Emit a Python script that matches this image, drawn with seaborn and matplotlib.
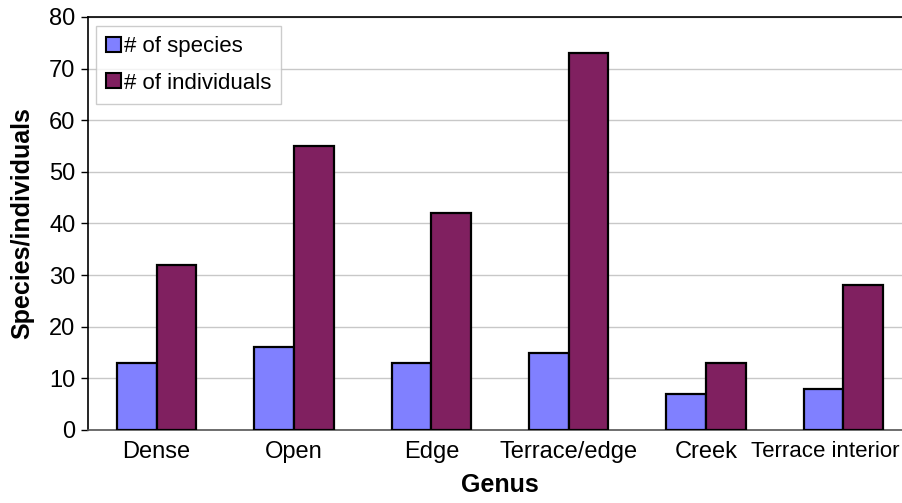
import numpy as np
import pandas as pd
import matplotlib
matplotlib.use("Agg")
import matplotlib.pyplot as plt
import matplotlib.transforms as mtransforms
import seaborn as sns

categories = ["Dense", "Open", "Edge", "Terrace/edge", "Creek", "Terrace interior"]
species = [13, 16, 13, 15, 7, 8]
individuals = [32, 55, 42, 73, 13, 28]
series_names = ["# of species", "# of individuals"]
colors = ["#8080FF", "#802060"]
y_ticks = [0, 10, 20, 30, 40, 50, 60, 70, 80]

df = pd.DataFrame({
    "Genus": categories * 2,
    "value": species + individuals,
    "series": [series_names[0]] * len(categories) + [series_names[1]] * len(categories),
})

sns.set_theme(style="white")
plt.rcParams["font.family"] = ["Liberation Sans", "DejaVu Sans"]
plt.rcParams["text.color"] = "black"
plt.rcParams["axes.labelcolor"] = "black"
plt.rcParams["xtick.color"] = "black"
plt.rcParams["ytick.color"] = "black"

W, H = 903, 503
fig = plt.figure(figsize=(W / 100, H / 100), dpi=100)
ax = fig.add_axes([88 / W, (H - 430) / H, (912 - 88) / W, 413 / H])

sns.barplot(data=df, x="Genus", y="value", hue="series", order=categories,
            hue_order=series_names, palette=colors, width=0.58, gap=0,
            edgecolor="black", linewidth=1.6, saturation=1, ax=ax, zorder=3)

ax.set_xlim(-0.5, len(categories) - 0.5)
ax.set_ylim(0, 80)
ax.set_yticks(y_ticks)
ax.set_yticklabels([str(t) for t in y_ticks], fontsize=17)
ax.tick_params(axis="x", labelsize=17, length=0, pad=8)
ax.tick_params(axis="y", left=True, length=5, width=1, color="black", pad=4)
ax.yaxis.grid(True, color="#c8c8c8", linewidth=1, zorder=0)
ax.set_axisbelow(True)

# the last category label is long: tighten it and keep it inside the figure
last = ax.get_xticklabels()[-1]
last.set_fontsize(16)
last.set_transform(last.get_transform() + mtransforms.ScaledTranslation(-0.18, 0, fig.dpi_scale_trans))

for side in ["left", "top"]:
    ax.spines[side].set_color("black")
    ax.spines[side].set_linewidth(1.2)
ax.spines["bottom"].set_color("#555555")
ax.spines["bottom"].set_linewidth(1.2)
ax.spines["right"].set_visible(False)

ax.set_xlabel("Genus", fontsize=18, fontweight="bold", labelpad=7)
ax.set_ylabel("Species/individuals", fontsize=18, fontweight="bold", labelpad=11)

leg = ax.legend(loc="upper left", bbox_to_anchor=(0.0098, 0.978), fontsize=16,
                frameon=True, fancybox=False, edgecolor="#c0c0c0",
                handlelength=0.65, handleheight=0.65, handletextpad=0.15,
                borderpad=0.45, labelspacing=0.7, borderaxespad=0)
leg.get_frame().set_linewidth(1)
for h in leg.legend_handles:
    h.set_edgecolor("black")
    h.set_linewidth(1.5)

fig.savefig("out.png", dpi=100)
